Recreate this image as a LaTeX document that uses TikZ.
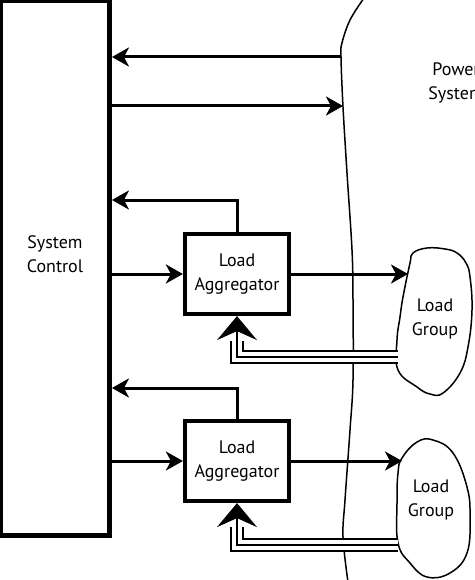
\documentclass[tikz,border=0pt]{standalone}
\usepackage{fontspec}
\setmainfont{PT Sans}
\usetikzlibrary{arrows.meta}
\begin{document}
\begin{tikzpicture}[x=1pt,y=-1pt,
  box/.style={draw, line width=4.5pt, inner sep=0pt, align=center, font=\fontsize{18}{24}\selectfont},
  lbl/.style={align=center, inner sep=0pt, font=\fontsize{18}{23.5}\selectfont},
  sig/.style={line width=3pt, -{Stealth[length=17pt,width=19pt,inset=5pt]}},
  bigtip/.style={line width=1.6pt, -{Stealth[length=24pt,width=40pt,inset=9pt]}},
  triple/.style={line width=1.6pt, preaction={draw, line width=13.6pt}, preaction={draw, white, line width=10.4pt}},
  edge/.style={line width=1.5pt}]
\useasboundingbox (0,0) rectangle (474,580);
\clip (0,0) rectangle (474,580);
\fill[white] (0,0) rectangle (474,580);
% power system boundary and load groups
\draw[edge] plot[smooth, tension=0.6] coordinates {(364,-2) (350,20) (342,43) (341,57) (343,107) (347,173) (352,250) (353,300) (353,380) (350,430) (345,500) (343,537) (348,582)};
\draw[edge] plot[smooth cycle, tension=0.7] coordinates {(413,253) (427,248) (445,249) (457,253) (466,263) (470,277) (472,310) (468,347) (460,373) (443,393) (430,394) (417,387) (398,370) (397,340) (400,317) (403,297) (410,263)};
\draw[edge] plot[smooth cycle, tension=0.7] coordinates {(402,458) (417,442) (433,440) (453,453) (467,487) (470,517) (467,553) (450,573) (427,577) (410,563) (398,543) (397,503) (398,473)};
\node[lbl] (pwr) at (456,83) {Power\\System};
\node[lbl] (grp1) at (435,319) {Load\\Group};
\node[lbl] (grp2) at (431,500) {Load\\Group};
% boxes
\node[box, minimum width=108.9pt, minimum height=534.7pt] (ctrl) at (55.25,268.15) {};
\node[lbl] (ctrltxt) at (55,254) {System\\Control};
\node[box, minimum width=103.7pt, minimum height=79.7pt] (agg1) at (237,274) {Load\\Aggregator};
\node[box, minimum width=103.7pt, minimum height=79.7pt] (agg2) at (237,461) {Load\\Aggregator};
\coordinate (pwrin) at (341,57);
\coordinate (pwrout) at (343,106);
\coordinate (fb1) at (237,200);
\coordinate (fb2) at (237,388);
\coordinate (g1in) at (408,273);
\coordinate (g2in) at (402,461);
\coordinate (g1fb) at (398,357);
\coordinate (g2fb) at (398,545);
\coordinate (tail1) at (237,341);
\coordinate (tail2) at (237,527);
% connectors
\draw[sig] (pwrin) -- (pwrin -| ctrl.east);
\draw[sig] (pwrout -| ctrl.east) -- (pwrout);
\draw[sig] (agg1.north) -- (fb1) -- (fb1 -| ctrl.east);
\draw[sig] (agg2.north) -- (fb2) -- (fb2 -| ctrl.east);
\draw[sig] (ctrl.east |- agg1.west) -- (agg1.west);
\draw[sig] (ctrl.east |- agg2.west) -- (agg2.west);
\draw[sig] (agg1.east) -- (agg1.east -| g1in);
\draw[sig] (agg2.east) -- (agg2.east -| g2in);
\draw[triple] (g1fb) -| (tail1);
\draw[triple] (g2fb) -| (tail2);
\draw[bigtip] (tail1) -- (agg1.south);
\draw[bigtip] (tail2) -- (agg2.south);
\end{tikzpicture}
\end{document}
